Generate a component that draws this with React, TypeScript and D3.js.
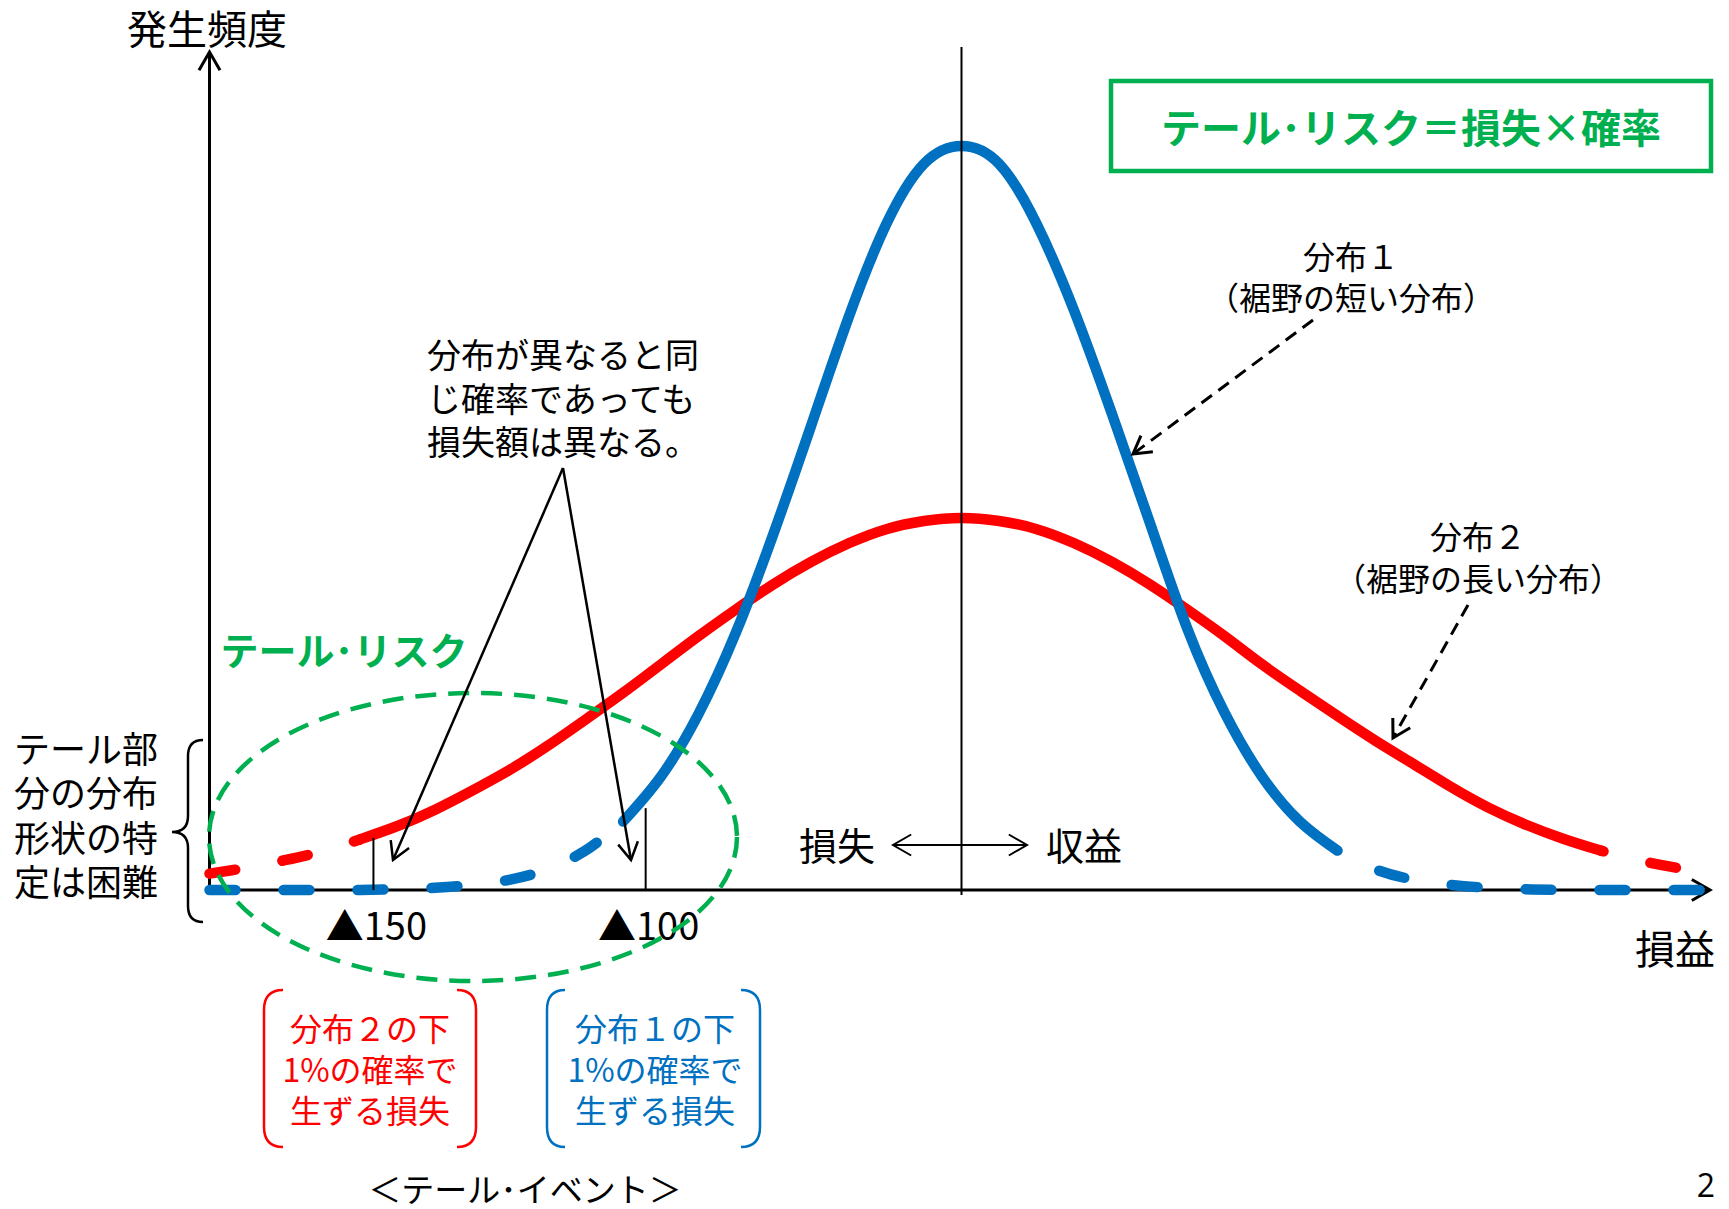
import React, { useEffect } from "react";
import * as d3 from "d3";

// x positions of the readings (profit/loss axis, arbitrary units, 50 = centre)
const xGrid = [
  0, 2.5, 5, 7.5, 10, 12.5, 15, 17.5, 20, 22.5, 25, 27.5, 30, 32.5, 35, 37.5, 40, 42.5, 45, 47.5, 50,
  52.5, 55, 57.5, 60, 62.5, 65, 67.5, 70, 72.5, 75, 77.5, 80, 82.5, 85, 87.5, 90, 92.5, 95, 97.5, 100,
];

// 分布1 (short tails) - frequency
const dist1 = [
  0, 0, 0, 0, 0, 0.1, 0.3, 0.7, 1.4, 2.8, 5.3, 9.2, 15.2, 23.6, 34.6, 47.9, 62.4, 77.0, 89.5, 97.6, 100,
  97.6, 89.5, 77.8, 64.0, 49.5, 35.2, 23.8, 15.2, 9.2, 5.3, 2.8, 1.4, 0.7, 0.3, 0.1, 0, 0, 0, 0, 0,
];

// 分布2 (long tails)
const dist2 = [
  2.2, 3.0, 4.0, 5.2, 6.8, 8.6, 10.8, 13.4, 16.2, 19.4, 22.9, 26.5, 30.3, 34.1, 37.7, 41.1, 44.1, 46.6, 48.5, 49.6, 50,
  49.6, 48.5, 46.6, 44.1, 41.1, 37.7, 34.1, 30.3, 26.8, 23.4, 20.1, 17.0, 13.9, 11.1, 8.8, 6.9, 5.3, 4.0, 3.0, 2.2,
];

// where each curve is drawn solid (outside: dashed = uncertain tail)
const dist1Solid = [27.5, 75];
const dist2Solid = [10, 92.5];
const dist2End = 97.5;

// 1% loss markers
const tickLabels = ["▲150", "▲100"];
const tickX = [10.9, 29.0];
const tickTop = [7.0, 11.0];

const leftNote = ["テール部", "分の分布", "形状の特", "定は困難"];
const midNote = ["分布が異なると同", "じ確率であっても", "損失額は異なる。"];
const box2Lines = ["分布２の下", "1%の確率で", "生ずる損失"];
const box1Lines = ["分布１の下", "1%の確率で", "生ずる損失"];
const dist1Label = ["分布１", "（裾野の短い分布）"];
const dist2Label = ["分布２", "（裾野の長い分布）"];

const BLUE = "#0070C0";
const RED = "#FF0000";
const GREEN = "#00B050";
const FONT = "'Noto Sans CJK JP', 'Noto Sans', sans-serif";

const W = 1729;
const H = 1209;

// open arrow head at (x2,y2) pointing along (x1,y1)->(x2,y2)
function chevron(x1: number, y1: number, x2: number, y2: number, len = 21, ang = Math.PI / 6) {
  const a = Math.atan2(y2 - y1, x2 - x1);
  const p1 = [x2 - len * Math.cos(a - ang), y2 - len * Math.sin(a - ang)];
  const p2 = [x2 - len * Math.cos(a + ang), y2 - len * Math.sin(a + ang)];
  return `M${p1[0]},${p1[1]}L${x2},${y2}L${p2[0]},${p2[1]}`;
}

// one <text>, one line per entry; cy = visual centre of the first line
function Lines(props: {
  x: number; cy: number; fs: number; lines: string[]; gap: number;
  anchor?: string; fill?: string; bold?: boolean; family?: string;
}) {
  const { x, cy, fs, lines, gap, anchor = "middle", fill = "#000", bold = false, family = FONT } = props;
  return (
    <text fontSize={fs} textAnchor={anchor} fill={fill} fontWeight={bold ? 700 : 400} fontFamily={family}>
      {lines.map((s, i) => (
        <tspan key={i} x={x} y={cy + i * gap + fs * 0.36}>{s}</tspan>
      ))}
    </text>
  );
}

function Txt(props: {
  x: number; cy: number; fs: number; children: string;
  anchor?: string; fill?: string; bold?: boolean; family?: string;
}) {
  return <Lines {...props} lines={[props.children]} gap={0} />;
}

function Arrow(props: { x1: number; y1: number; x2: number; y2: number; w?: number; dash?: string; len?: number }) {
  const { x1, y1, x2, y2, w = 2.5, dash, len = 20 } = props;
  return (
    <g stroke="#000" fill="none" strokeWidth={w}>
      <line x1={x1} y1={y1} x2={x2} y2={y2} strokeDasharray={dash} />
      <path d={chevron(x1, y1, x2, y2, len)} strokeLinejoin="miter" />
    </g>
  );
}

export default function App() {
  useEffect(() => {
    document.body.style.margin = "0";
  }, []);

  const x = d3.scaleLinear().domain([0, 100]).range([209.5, 1713.5]);
  const y = d3.scaleLinear().domain([0, 100]).range([890, 146]);

  const tail = d3
    .line<[number, number]>()
    .x((d) => x(d[0]))
    .y((d) => y(d[1]))
    .curve(d3.curveCatmullRom.alpha(0.5));
  const body = d3
    .line<[number, number]>()
    .x((d) => x(d[0]))
    .y((d) => y(d[1]))
    .curve(d3.curveNatural);

  const pts1: [number, number][] = xGrid.map((g, i) => [g, dist1[i]]);
  const pts2: [number, number][] = xGrid.map((g, i) => [g, dist2[i]]);
  const seg = (p: [number, number][], a: number, b: number) => p.filter((d) => d[0] >= a && d[0] <= b);

  const b = {
    left: seg(pts1, 0, dist1Solid[0]),
    mid: seg(pts1, dist1Solid[0], dist1Solid[1]),
    right: seg(pts1, dist1Solid[1], 100).reverse(),
  };
  const r = {
    left: seg(pts2, 0, dist2Solid[0]),
    mid: seg(pts2, dist2Solid[0], dist2Solid[1]),
    right: seg(pts2, dist2Solid[1], dist2End).reverse(),
  };

  const base = y(0);
  const axisX = x(0);
  const axisEnd = 1710;
  const axisTop = 52;
  const cx = x(50);

  const curveW = 10.5;
  const dashes = "26 48";

  return (
    <svg width={W} height={H} style={{ position: "absolute", left: 0, top: 0, display: "block" }}
      xmlns="http://www.w3.org/2000/svg">
      <rect width={W} height={H} fill="#fff" />

      {/* axes */}
      <g stroke="#000" strokeWidth={3} fill="none">
        <line x1={axisX} y1={base + 1.5} x2={axisX} y2={axisTop} />
        <path d={chevron(axisX, base, axisX, axisTop)} />
        <line x1={axisX} y1={base} x2={axisEnd} y2={base} />
        <path d={chevron(axisX, base, axisEnd, base)} />
      </g>

      {/* 分布2 */}
      <g fill="none" stroke={RED} strokeWidth={curveW} strokeLinecap="round">
        <path d={tail(r.left) || ""} strokeDasharray={dashes} />
        <path d={body(r.mid) || ""} />
        <path d={tail(r.right) || ""} strokeDasharray={dashes} />
      </g>

      {/* 分布1 */}
      <g fill="none" stroke={BLUE} strokeWidth={curveW} strokeLinecap="round">
        <path d={tail(b.left) || ""} strokeDasharray={dashes} />
        <path d={body(b.mid) || ""} />
        <path d={tail(b.right) || ""} strokeDasharray={dashes} strokeDashoffset={60} />
      </g>

      {/* centre line */}
      <line x1={cx} y1={47} x2={cx} y2={base + 5} stroke="#000" strokeWidth={2} />

      {/* 1% loss markers */}
      {tickX.map((t, i) => (
        <g key={tickLabels[i]}>
          <line x1={x(t)} y1={base} x2={x(t)} y2={y(tickTop[i])} stroke="#000" strokeWidth={2} />
          <Txt x={x(t) + 3} cy={926} fs={38}>{tickLabels[i]}</Txt>
        </g>
      ))}

      {/* tail-risk ellipse */}
      <ellipse cx={473} cy={837} rx={264} ry={144} fill="none" stroke={GREEN} strokeWidth={4.5}
        strokeDasharray="21 12" />
      <Txt x={344} cy={651} fs={38} fill={GREEN} bold>テール･リスク</Txt>

      {/* axis labels */}
      <Txt x={207} cy={30} fs={40}>発生頻度</Txt>
      <Txt x={1675} cy={950} fs={40}>損益</Txt>

      {/* loss <-> profit */}
      <Txt x={837} cy={846} fs={38}>損失</Txt>
      <Txt x={1084} cy={846} fs={38}>収益</Txt>
      <g stroke="#000" strokeWidth={2} fill="none">
        <line x1={893} y1={845} x2={1027} y2={845} />
        <path d={chevron(1027, 845, 893, 845)} />
        <path d={chevron(893, 845, 1027, 845)} />
      </g>

      {/* formula box */}
      <rect x={1111} y={81} width={600} height={90} fill="none" stroke={GREEN} strokeWidth={4.5} />
      <Txt x={1411} cy={129} fs={40} fill={GREEN} bold>テール･リスク＝損失×確率</Txt>

      {/* distribution labels */}
      <Lines x={1351} cy={257} fs={32} gap={41} lines={dist1Label} />
      <Arrow x1={1313} y1={320} x2={1133} y2={454} w={3} dash="13 8" />

      <Lines x={1478} cy={537} fs={32} gap={42} lines={dist2Label} />
      <Arrow x1={1468} y1={605} x2={1393} y2={738} w={3} dash="13 8" />

      {/* middle note */}
      <Lines x={427} cy={356} fs={34} gap={43.5} lines={midNote} anchor="start" />
      <Arrow x1={563} y1={468} x2={393} y2={860} />
      <Arrow x1={563} y1={468} x2={631} y2={860} />

      {/* left note with brace */}
      <Lines x={14} cy={750} fs={36} gap={44.3} lines={leftNote} anchor="start" />
      <path d="M203,740 Q188,740 188,756 L188,816 Q188,832 172,832 Q188,832 188,848 L188,906 Q188,922 203,922"
        fill="none" stroke="#000" strokeWidth={2.5} />

      {/* bracket boxes */}
      <g fill="none" strokeWidth={2.5}>
        <path d="M283,990 Q264,990 264,1010 L264,1127 Q264,1147 283,1147" stroke={RED} />
        <path d="M457,990 Q476,990 476,1010 L476,1127 Q476,1147 457,1147" stroke={RED} />
        <path d="M565,990 Q547,990 547,1010 L547,1127 Q547,1147 565,1147" stroke={BLUE} />
        <path d="M741,990 Q760,990 760,1010 L760,1127 Q760,1147 741,1147" stroke={BLUE} />
      </g>
      <Lines x={370} cy={1029} fs={32} gap={41} lines={box2Lines} fill={RED} />
      <Lines x={655} cy={1029} fs={32} gap={41} lines={box1Lines} fill={BLUE} />

      <Txt x={525} cy={1190} fs={33}>＜テール･イベント＞</Txt>
      <Txt x={1706} cy={1185} fs={32} family="'Open Sans', sans-serif">2</Txt>
    </svg>
  );
}
